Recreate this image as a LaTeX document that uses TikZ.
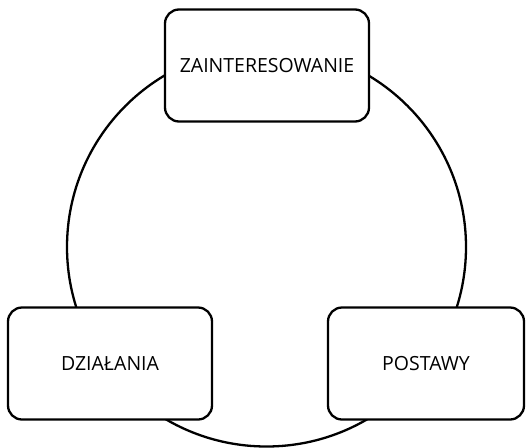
\documentclass[tikz,border=0pt]{standalone}
\usepackage{fontspec}
\setmainfont{Open Sans}
\begin{document}
\begin{tikzpicture}[x=1pt,y=-1pt,
  stage/.style={draw=black, line width=2.3pt, fill=white, rounded corners=14pt,
    inner sep=0pt, font=\fontsize{19.5}{22}\selectfont}]
\useasboundingbox (0,0) rectangle (526,447);
% cycle ring behind the stages
\node[draw=black, line width=2.3pt, circle, minimum size=399pt, inner sep=0pt] (ring) at (266.5,247) {};
% stages
\node[stage, minimum width=204pt, minimum height=112pt] (top) at (267,65.5) {ZAINTERESOWANIE};
\node[stage, minimum width=204pt, minimum height=112pt] (left) at (110,363.5) {DZIAŁANIA};
\node[stage, minimum width=196pt, minimum height=112pt] (right) at (426,363.5) {POSTAWY};
\end{tikzpicture}
\end{document}
